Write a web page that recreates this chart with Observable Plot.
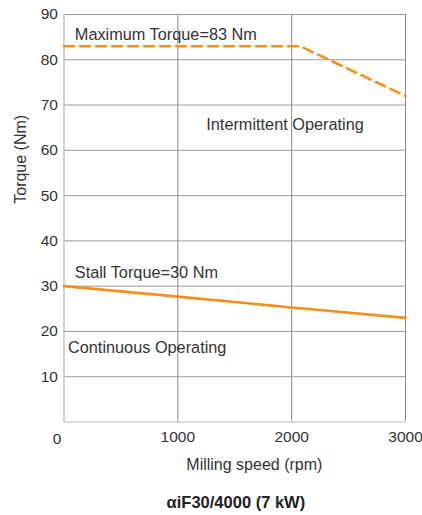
<!DOCTYPE html>
<html>
<head>
<meta charset="utf-8">
<script src="https://cdn.jsdelivr.net/npm/d3@7"></script>
<script src="https://cdn.jsdelivr.net/npm/@observablehq/plot@0.6"></script>
<style>
  html, body { margin: 0; padding: 0; background: #fff; }
  svg { font-family: "Liberation Sans", Arial, sans-serif; }
</style>
</head>
<body>
<div id="chart"></div>
<script>
// Data
const maxSpeed = [0, 2075, 3000];
const maxTorque = [83, 83, 72];
const stallSpeed = [0, 1000, 2000, 3000];
const stallTorque = [30, 27.7, 25.3, 23];
const xTicks = [1000, 2000, 3000];
const yTicks = [10, 20, 30, 40, 50, 60, 70, 80, 90];
const labels = [
  {text: "Maximum Torque=83 Nm", x: 95, y: 85.5},
  {text: "Intermittent Operating", x: 1250, y: 65.6},
  {text: "Stall Torque=30 Nm", x: 95, y: 32.9},
  {text: "Continuous Operating", x: 35, y: 16.3}
];
const title = "αiF30/4000 (7 kW)";
const xLabel = "Milling speed (rpm)";
const yLabel = "Torque (Nm)";

const maxData = maxSpeed.map((s, i) => ({s, t: maxTorque[i]}));
const stallData = stallSpeed.map((s, i) => ({s, t: stallTorque[i]}));
const orange = "#f39019";
const textColor = "#333";

const chart = Plot.plot({
  width: 422,
  height: 515,
  marginLeft: 63.5,
  marginRight: 17,
  marginTop: 14,
  marginBottom: 93.5,
  x: {domain: [0, 3000]},
  y: {domain: [0, 90]},
  style: {fontFamily: "Liberation Sans, Arial, sans-serif", color: textColor},
  marks: [
    Plot.ruleX(xTicks, {stroke: "#888", strokeWidth: 1}),
    Plot.ruleY(yTicks, {stroke: "#999", strokeWidth: 1}),
    Plot.ruleX([0], {stroke: "#b5b5b5", strokeWidth: 1.2}),
    Plot.ruleY([0], {stroke: "#b5b5b5", strokeWidth: 1.2}),
    Plot.axisY({ticks: yTicks, tickSize: 0, tickPadding: 6, fontSize: 15.5, label: null, fill: textColor}),
    Plot.axisX({ticks: xTicks, tickFormat: "d", tickSize: 0, tickPadding: 9, fontSize: 15.5, label: null, fill: textColor}),
    Plot.text([0], {x: d => d, y: 0, text: d => String(d), dx: -7, dy: 17, fontSize: 15.5, fill: textColor}),
    Plot.line(maxData, {x: "s", y: "t", stroke: orange, strokeWidth: 2.6, strokeDasharray: "10,6"}),
    Plot.line(stallData, {x: "s", y: "t", stroke: orange, strokeWidth: 2.6}),
    Plot.text(labels, {x: "x", y: "y", text: "text", textAnchor: "start", fontSize: 16.3, fill: textColor}),
    Plot.text([xLabel], {x: 1672, frameAnchor: "bottom", dy: 48, text: d => d, fontSize: 16, fill: textColor}),
    Plot.text([yLabel], {y: 48.2, frameAnchor: "left", dx: -43, rotate: -90, text: d => d, fontSize: 16, fill: textColor}),
    Plot.text([title], {x: 1510, frameAnchor: "bottom", dy: 86, text: d => d, fontSize: 16.5, fontWeight: "bold", fill: "#222"})
  ]
});
document.getElementById("chart").appendChild(chart);
</script>
</body>
</html>
